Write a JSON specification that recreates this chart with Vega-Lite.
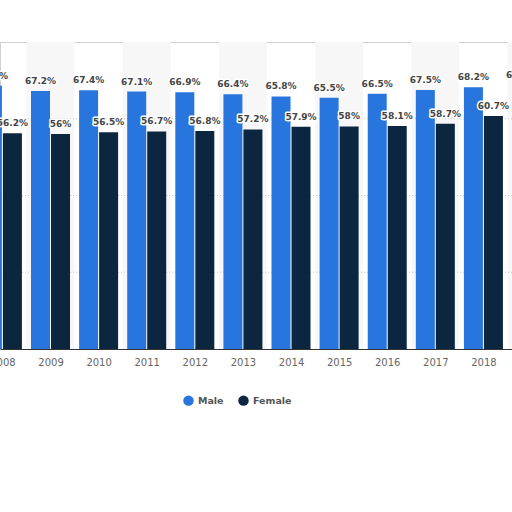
{
  "$schema": "https://vega.github.io/schema/vega-lite/v6.json",
  "autosize": "none",
  "width": 512,
  "height": 307,
  "padding": {"top": 42, "left": 0, "right": 0, "bottom": 163},
  "background": "white",
  "config": {
    "view": {"stroke": "#d0d0d0", "strokeWidth": 1},
    "font": "DejaVu Sans"
  },
  "data": {
    "values": [
      {"year": 2008, "gender": "Male", "value": 68.6},
      {"year": 2009, "gender": "Male", "value": 67.2},
      {"year": 2010, "gender": "Male", "value": 67.4},
      {"year": 2011, "gender": "Male", "value": 67.1},
      {"year": 2012, "gender": "Male", "value": 66.9},
      {"year": 2013, "gender": "Male", "value": 66.4},
      {"year": 2014, "gender": "Male", "value": 65.8},
      {"year": 2015, "gender": "Male", "value": 65.5},
      {"year": 2016, "gender": "Male", "value": 66.5},
      {"year": 2017, "gender": "Male", "value": 67.5},
      {"year": 2018, "gender": "Male", "value": 68.2},
      {"year": 2019, "gender": "Male", "value": 68.7},
      {"year": 2008, "gender": "Female", "value": 56.2},
      {"year": 2009, "gender": "Female", "value": 56},
      {"year": 2010, "gender": "Female", "value": 56.5},
      {"year": 2011, "gender": "Female", "value": 56.7},
      {"year": 2012, "gender": "Female", "value": 56.8},
      {"year": 2013, "gender": "Female", "value": 57.2},
      {"year": 2014, "gender": "Female", "value": 57.9},
      {"year": 2015, "gender": "Female", "value": 58},
      {"year": 2016, "gender": "Female", "value": 58.1},
      {"year": 2017, "gender": "Female", "value": 58.7},
      {"year": 2018, "gender": "Female", "value": 60.7},
      {"year": 2019, "gender": "Female", "value": 61}
    ]
  },
  "encoding": {
    "x": {
      "field": "year", "type": "quantitative",
      "scale": {"domain": [2007.95, 2018.594], "nice": false, "zero": false, "padding": 0},
      "axis": {
        "title": null, "values": [2008, 2009, 2010, 2011, 2012, 2013, 2014, 2015, 2016, 2017, 2018],
        "format": "d", "labelFlush": false, "ticks": false, "grid": false,
        "labelColor": "#666", "labelFontSize": 10, "labelPadding": 8,
        "domainColor": "#333", "domainWidth": 1, "labelOverlap": false
      }
    }
  },
  "layer": [
    {
      "transform": [{"filter": "datum.gender == 'Male' && datum.year % 2 == 1"}],
      "mark": {"type": "bar", "width": 48, "color": "#f7f7f7", "clip": true},
      "encoding": {"y": {"datum": 80, "type": "quantitative"}, "y2": {"datum": 0}}
    },
    {
      "mark": {"type": "rule", "color": "#c8c8c8", "strokeDash": [1, 2]},
      "data": {"values": [{"g": 20}, {"g": 40}, {"g": 60}]},
      "encoding": {"x": null, "y": {"field": "g", "type": "quantitative"}}
    },
    {
      "transform": [{"filter": "datum.gender == 'Male'"}],
      "mark": {"type": "bar", "width": 19, "xOffset": -10, "clip": true},
      "encoding": {
        "y": {"field": "value", "type": "quantitative", "scale": {"domain": [0, 80]},
              "axis": {"title": null, "labels": false, "ticks": false, "domain": false, "grid": false}},
        "color": {
          "field": "gender", "type": "nominal",
          "scale": {"domain": ["Male", "Female"], "range": ["#2876dd", "#0d2640"]},
          "legend": {
            "title": null, "orient": "none", "direction": "horizontal",
            "legendX": 183, "legendY": 353, "symbolType": "circle", "symbolSize": 110,
            "labelFontSize": 9.5, "labelFontWeight": "bold", "labelColor": "#555",
            "columnPadding": 14, "symbolStrokeWidth": 0
          }
        }
      }
    },
    {
      "transform": [{"filter": "datum.gender == 'Female'"}],
      "mark": {"type": "bar", "width": 19, "xOffset": 10, "clip": true},
      "encoding": {
        "y": {"field": "value", "type": "quantitative"},
        "color": {"field": "gender", "type": "nominal"}
      }
    },
    {
      "transform": [{"filter": "datum.gender == 'Male'"}],
      "mark": {"type": "text", "xOffset": -10, "dy": -7, "baseline": "alphabetic", "fontSize": 9, "fontWeight": "bold", "stroke": "white", "strokeWidth": 3, "strokeJoin": "round", "fill": "white", "clip": true, "text": {"expr": "datum.value + '%'"}},
      "encoding": {"y": {"field": "value", "type": "quantitative"}}
    },
    {
      "transform": [{"filter": "datum.gender == 'Female'"}],
      "mark": {"type": "text", "xOffset": 10, "dy": -7, "baseline": "alphabetic", "fontSize": 9, "fontWeight": "bold", "stroke": "white", "strokeWidth": 3, "strokeJoin": "round", "fill": "white", "clip": true, "text": {"expr": "datum.value + '%'"}},
      "encoding": {"y": {"field": "value", "type": "quantitative"}}
    },
    {
      "transform": [{"filter": "datum.gender == 'Male'"}],
      "mark": {"type": "text", "xOffset": -10, "dy": -7, "baseline": "alphabetic", "fontSize": 9, "fontWeight": "bold", "color": "#444", "clip": true, "text": {"expr": "datum.value + '%'"}},
      "encoding": {"y": {"field": "value", "type": "quantitative"}}
    },
    {
      "transform": [{"filter": "datum.gender == 'Female'"}],
      "mark": {"type": "text", "xOffset": 10, "dy": -7, "baseline": "alphabetic", "fontSize": 9, "fontWeight": "bold", "color": "#444", "clip": true, "text": {"expr": "datum.value + '%'"}},
      "encoding": {"y": {"field": "value", "type": "quantitative"}}
    }
  ]
}
